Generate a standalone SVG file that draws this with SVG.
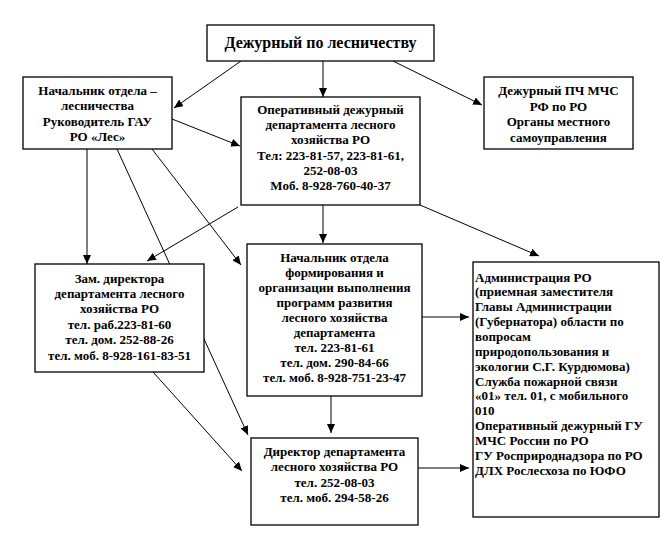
<svg xmlns="http://www.w3.org/2000/svg" width="665" height="544" viewBox="0 0 665 544">
<style>
.box{fill:#fff;stroke:#000;stroke-width:1.3}
.t{font-family:"Liberation Serif","DejaVu Serif",serif;font-weight:bold;font-size:13px;fill:#000}
.c{text-anchor:middle}
.big{font-size:16px}
.ln{stroke:#000;stroke-width:1;fill:none;marker-end:url(#ah)}
</style>
<defs>
<marker id="ah" markerUnits="userSpaceOnUse" markerWidth="9" markerHeight="8" refX="9" refY="4" orient="auto">
<path d="M0,0 L9,4 L0,8 z" fill="#000"/>
</marker>
</defs>
<rect width="665" height="544" fill="#fff"/>
<g id="connectors">
<line class="ln" x1="241" y1="61" x2="174" y2="108"/>
<line class="ln" x1="323" y1="61" x2="323" y2="97"/>
<line class="ln" x1="393" y1="61" x2="482" y2="105"/>
<line class="ln" x1="172" y1="119" x2="240" y2="146"/>
<line class="ln" x1="87" y1="149" x2="87" y2="264"/>
<line class="ln" x1="117" y1="149" x2="248" y2="435"/>
<line class="ln" x1="152" y1="149" x2="241" y2="265"/>
<line class="ln" x1="238" y1="207" x2="147" y2="261"/>
<line class="ln" x1="323" y1="205" x2="323" y2="243"/>
<line class="ln" x1="420" y1="205" x2="539" y2="256"/>
<line class="ln" x1="422" y1="317" x2="469" y2="317"/>
<line class="ln" x1="331" y1="396" x2="331" y2="433"/>
<line class="ln" x1="153" y1="372" x2="242" y2="471"/>
<line class="ln" x1="418" y1="468" x2="469" y2="468"/>
</g>
<g id="n-top">
<rect class="box" x="207" y="25" width="227" height="36"/>
<text class="t c big" x="320.5" y="48">Дежурный по лесничеству</text>
</g>
<g id="n-nach">
<rect class="box" x="23" y="77" width="149" height="72"/>
<text class="t c" x="97.5" y="95">Начальник отдела –</text>
<text class="t c" x="97.5" y="110">лесничества</text>
<text class="t c" x="97.5" y="125.5">Руководитель ГАУ</text>
<text class="t c" x="97.5" y="140.5">РО «Лес»</text>
</g>
<g id="n-oper">
<rect class="box" x="241" y="97" width="179" height="108"/>
<text class="t c" x="330.5" y="113.5">Оперативный дежурный</text>
<text class="t c" x="330.5" y="129">департамента лесного</text>
<text class="t c" x="330.5" y="144">хозяйства РО</text>
<text class="t c" x="330.5" y="159.5">Тел: 223-81-57, 223-81-61,</text>
<text class="t c" x="330.5" y="175">252-08-03</text>
<text class="t c" x="330.5" y="190">Моб. 8-928-760-40-37</text>
</g>
<g id="n-pch">
<rect class="box" x="484" y="77" width="149" height="72"/>
<text class="t c" x="558.5" y="95">Дежурный ПЧ МЧС</text>
<text class="t c" x="558.5" y="110.5">РФ по РО</text>
<text class="t c" x="558.5" y="126">Органы местного</text>
<text class="t c" x="558.5" y="141.5">самоуправления</text>
</g>
<g id="n-zam">
<rect class="box" x="35" y="264" width="169" height="108"/>
<text class="t c" x="119.5" y="282.5">Зам. директора</text>
<text class="t c" x="119.5" y="298">департамента лесного</text>
<text class="t c" x="119.5" y="313">хозяйства РО</text>
<text class="t c" x="119.5" y="328.5">тел. раб.223-81-60</text>
<text class="t c" x="119.5" y="344">тел. дом. 252-88-26</text>
<text class="t c" x="119.5" y="359.5">тел. моб. 8-928-161-83-51</text>
</g>
<g id="n-form">
<rect class="box" x="247" y="244" width="175" height="152"/>
<text class="t c" x="334.5" y="261.5">Начальник отдела</text>
<text class="t c" x="334.5" y="276.6">формирования и</text>
<text class="t c" x="334.5" y="291.7">организации выполнения</text>
<text class="t c" x="334.5" y="306.8">программ развития</text>
<text class="t c" x="334.5" y="321.9">лесного хозяйства</text>
<text class="t c" x="334.5" y="337">департамента</text>
<text class="t c" x="334.5" y="352.1">тел. 223-81-61</text>
<text class="t c" x="334.5" y="367.2">тел. дом. 290-84-66</text>
<text class="t c" x="334.5" y="382.3">тел. моб. 8-928-751-23-47</text>
</g>
<g id="n-dir">
<rect class="box" x="251" y="438" width="167" height="87"/>
<text class="t c" x="334.5" y="456">Директор департамента</text>
<text class="t c" x="334.5" y="471">лесного хозяйства РО</text>
<text class="t c" x="334.5" y="486.5">тел. 252-08-03</text>
<text class="t c" x="334.5" y="501.5">тел. моб. 294-58-26</text>
</g>
<g id="n-adm">
<rect class="box" x="473" y="262" width="186" height="255"/>
<text class="t" x="475" y="281.5">Администрация РО</text>
<text class="t" x="475" y="296.4">(приемная заместителя</text>
<text class="t" x="475" y="311.2">Главы Администрации</text>
<text class="t" x="475" y="326">(Губернатора) области по</text>
<text class="t" x="475" y="340.9">вопросам</text>
<text class="t" x="475" y="355.8">природопользования и</text>
<text class="t" x="475" y="370.6">экологии С.Г. Курдюмова)</text>
<text class="t" x="475" y="385.5">Служба пожарной связи</text>
<text class="t" x="475" y="400.3">«01» тел. 01, с мобильного</text>
<text class="t" x="475" y="415.2">010</text>
<text class="t" x="475" y="430">Оперативный дежурный ГУ</text>
<text class="t" x="475" y="444.9">МЧС России по РО</text>
<text class="t" x="475" y="459.8">ГУ Росприроднадзора по РО</text>
<text class="t" x="475" y="474.6">ДЛХ Рослесхоза по ЮФО</text>
</g>
</svg>
